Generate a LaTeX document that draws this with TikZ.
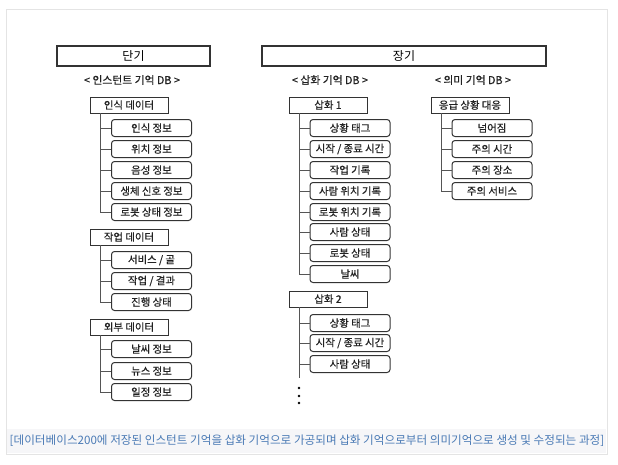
\documentclass[tikz,border=0pt]{standalone}
\usepackage{fontspec}
\setmainfont{Noto Sans CJK KR}
\newfontfamily\lblfont{Noto Sans CJK KR}[FakeBold=0.6]
\usetikzlibrary{shadows}
\definecolor{linegray}{HTML}{555555}
\definecolor{boxdark}{HTML}{333333}
\definecolor{textdark}{HTML}{222222}
\definecolor{framegray}{HTML}{E4E4E4}
\definecolor{capbg}{HTML}{F6F6F8}
\definecolor{captext}{HTML}{4A7AB5}
\tikzset{
  titlebox/.style={draw=boxdark, line width=1.1pt, fill=white, minimum width=#1, minimum height=20pt, inner sep=0pt, font=\fontsize{12}{13}\selectfont},
  dblabel/.style={inner sep=0pt, text=textdark, font=\lblfont\fontsize{10.8}{12}\selectfont},
  headbox/.style={draw=boxdark, line width=0.7pt, fill=white, minimum width=78pt, minimum height=16pt, inner sep=0pt, text=textdark,
    general shadow={shadow xshift=1.3pt, shadow yshift=-1.3pt, fill=boxdark}, font=\lblfont\fontsize{10.4}{11}\selectfont},
  leafbox/.style={draw=boxdark, line width=1pt, fill=white, rounded corners=3pt, minimum width=80pt, minimum height=17pt, inner sep=0pt, text=textdark, font=\lblfont\fontsize{10.4}{11}\selectfont},
  branch/.style={draw=linegray, line width=0.9pt},
  dot/.style={circle, fill=black, inner sep=0pt, minimum size=2.6pt},
}
\begin{document}
\begin{tikzpicture}[x=1pt,y=-1pt]
\useasboundingbox (0,0) rectangle (618,464);
% outer frame and caption band
\node[draw=framegray, line width=0.8pt, minimum width=601pt, minimum height=445pt, inner sep=0pt] (frame) at (306.5,231.5) {};
\node[fill=capbg, minimum width=599pt, minimum height=24pt, inner sep=0pt] (capband) at (306.5,440.5) {};
\node[text=captext, inner sep=0pt, font=\fontsize{11.6}{13}\selectfont] (caption) at (307,441) {[데이터베이스200에 저장된 인스턴트 기억을 삽화 기억으로 가공되며 삽화 기억으로부터 의미기억으로 생성 및 수정되는 과정]};

% titles
\node[titlebox=153pt] (short) at (133.5,56) {단기};
\node[titlebox=284pt] (long) at (404,56) {장기};
\node[dblabel] (instdb) at (132,80) {< 인스턴트 기억 DB >};
\node[dblabel] (epidb) at (330,80) {< 삽화 기억 DB >};
\node[dblabel] (semdb) at (473,80) {< 의미 기억 DB >};

% ---------- left column ----------
\node[headbox] (h1) at (129,105) {인식 데이터};
\coordinate (t1) at (100,113);
\node[leafbox] (a1) at (151.5,128) {인식 정보};
\node[leafbox] (a2) at (151.5,149) {위치 정보};
\node[leafbox] (a3) at (151.5,170) {음성 정보};
\node[leafbox] (a4) at (151.5,191) {생체 신호 정보};
\node[leafbox] (a5) at (151.5,212) {로봇 상태 정보};
\foreach \n in {a1,a2,a3,a4,a5} \draw[branch] (t1) |- (\n.west);

\node[headbox] (h2) at (129,237) {작업 데이터};
\coordinate (t2) at (100,245);
\node[leafbox] (b1) at (151.5,260) {서비스 / 골};
\node[leafbox] (b2) at (151.5,281) {작업 / 결과};
\node[leafbox] (b3) at (151.5,302) {진행 상태};
\foreach \n in {b1,b2,b3} \draw[branch] (t2) |- (\n.west);

\node[headbox] (h3) at (129,327) {외부 데이터};
\coordinate (t3) at (100,335);
\node[leafbox] (c1) at (151.5,349) {날씨 정보};
\node[leafbox] (c2) at (151.5,371) {뉴스 정보};
\node[leafbox] (c3) at (151.5,392) {일정 정보};
\foreach \n in {c1,c2,c3} \draw[branch] (t3) |- (\n.west);

% ---------- middle column ----------
\node[headbox] (h4) at (328,105) {삽화 1};
\coordinate (t4) at (299,113);
\node[leafbox] (d1) at (350,128) {상황 태그};
\node[leafbox] (d2) at (350,149) {시작 / 종료 시간};
\node[leafbox] (d3) at (350,170) {작업 기록};
\node[leafbox] (d4) at (350,191) {사람 위치 기록};
\node[leafbox] (d5) at (350,212) {로봇 위치 기록};
\node[leafbox] (d6) at (350,232) {사람 상태};
\node[leafbox] (d7) at (350,253) {로봇 상태};
\node[leafbox] (d8) at (350,274) {날씨};
\foreach \n in {d1,d2,d3,d4,d5,d6,d7,d8} \draw[branch] (t4) |- (\n.west);

\node[headbox] (h5) at (328,299) {삽화 2};
\coordinate (t5) at (299,307);
\coordinate (t5end) at (299,378);
\node[leafbox] (e1) at (350,323) {상황 태그};
\node[leafbox] (e2) at (350,343) {시작 / 종료 시간};
\node[leafbox] (e3) at (350,364) {사람 상태};
\foreach \n in {e1,e2,e3} \draw[branch] (t5) |- (\n.west);
\draw[branch] (t5) -- (t5end);
\node[dot] (dot1) at (299,388) {};
\node[dot] (dot2) at (299,396) {};
\node[dot] (dot3) at (299,403) {};

% ---------- right column ----------
\node[headbox] (h6) at (470,105) {응급 상황 대응};
\coordinate (t6) at (441,113);
\node[leafbox] (f1) at (492,128) {넘어짐};
\node[leafbox] (f2) at (492,149) {주의 시간};
\node[leafbox] (f3) at (492,170) {주의 장소};
\node[leafbox] (f4) at (492,191) {주의 서비스};
\foreach \n in {f1,f2,f3,f4} \draw[branch] (t6) |- (\n.west);
\end{tikzpicture}
\end{document}
